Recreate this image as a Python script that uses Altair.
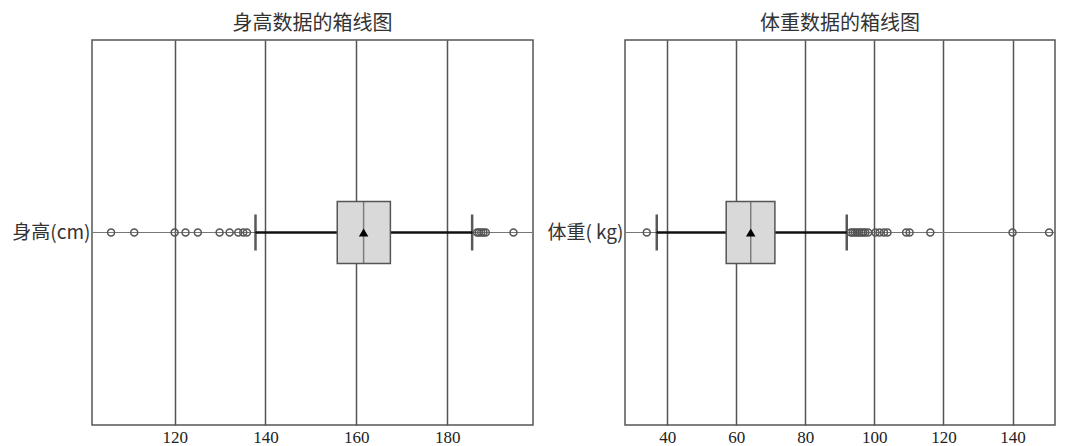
import altair as alt
import pandas as pd

# ---- data ----
stat_names = ["whisker_low", "q1", "median", "q3", "whisker_high", "mean"]
height_stats = [137.8, 155.8, 161.6, 167.5, 185.5, 161.6]
weight_stats = [37.0, 57.1, 64.2, 71.2, 92.0, 64.2]

height_outliers = [106.0, 111.1, 120.0, 122.4, 125.1, 129.9, 132.1, 134.0, 135.1, 135.9,
                   186.6, 187.0, 187.5, 188.0, 188.5, 194.6]
weight_outliers = [34.1, 93.2, 93.8, 94.4, 95.0, 95.6, 96.2, 96.8, 97.4, 98.2,
                   100.3, 101.5, 102.8, 103.8, 109.2, 110.2, 116.2, 140.0, 150.6]

height_label = "身高(cm)"
weight_label = "体重( kg)"
height_title = "身高数据的箱线图"
weight_title = "体重数据的箱线图"
height_ticks = [120, 140, 160, 180]
weight_ticks = [40, 60, 80, 100, 120, 140]
height_domain = [101.8, 198.9]
weight_domain = [27.8, 152.3]

CJK = "Noto Sans CJK SC"
SERIF = "Liberation Serif"


def panel(label, stats, outliers, ticks, domain, title, width):
    s = dict(zip(stat_names, stats))
    sdf = pd.DataFrame([dict(cat=label, **s)])
    odf = pd.DataFrame({"cat": [label] * len(outliers), "v": outliers})

    xscale = alt.Scale(domain=domain, nice=False, zero=False)
    xaxis = alt.Axis(values=ticks, grid=True, gridColor="#555", gridWidth=1.5,
                     ticks=False, domain=False, labelFont=SERIF, labelFontSize=17,
                     labelColor="#222", labelPadding=4, title=None, format="d")
    yaxis = alt.Axis(title=None, grid=True, gridColor="#777", gridWidth=1.2,
                     bandPosition=0.5, ticks=False, domain=False,
                     labelFont=CJK, labelFontSize=19, labelColor="#333",
                     labelPadding=2)
    y = alt.Y("cat:N", axis=yaxis, scale=alt.Scale(paddingInner=0, paddingOuter=0))

    base = alt.Chart(sdf)
    w1 = base.mark_rule(color="#111", strokeWidth=2.5).encode(
        x=alt.X("whisker_low:Q", scale=xscale, axis=xaxis), x2="q1:Q", y=y)
    w2 = base.mark_rule(color="#111", strokeWidth=2.5).encode(
        x=alt.X("q3:Q"), x2="whisker_high:Q", y=y)
    caps_lo = base.mark_tick(color="#111", thickness=2.5, size=36).encode(
        x="whisker_low:Q", y=y)
    caps_hi = base.mark_tick(color="#111", thickness=2.5, size=36).encode(
        x="whisker_high:Q", y=y)
    box = base.mark_bar(fill="#d9d9d9", stroke="#555", strokeWidth=1.5, size=62).encode(
        x="q1:Q", x2="q3:Q", y=y)
    med = base.mark_tick(color="#555", thickness=1.5, size=62).encode(
        x="median:Q", y=y)
    mean = base.mark_point(shape="triangle-up", filled=True, color="#000", size=90,
                           opacity=1).encode(x="mean:Q", y=y)
    outs = alt.Chart(odf).mark_point(shape="circle", filled=False, stroke="#555",
                                     strokeWidth=1.4, size=50, opacity=1).encode(
        x="v:Q", y=y)

    return alt.layer(w1, w2, caps_lo, caps_hi, box, med, mean, outs).properties(
        width=width, height=385,
        title=alt.TitleParams(title, font=CJK, fontSize=20, fontWeight="normal",
                              color="#333", offset=6, anchor="middle"))


left = panel(height_label, height_stats, height_outliers, height_ticks,
             height_domain, height_title, 441)
right = panel(weight_label, weight_stats, weight_outliers, weight_ticks,
              weight_domain, weight_title, 430)

chart = alt.hconcat(left, right, spacing=92, bounds="flush").resolve_scale(
    x="independent", y="independent"
).configure_view(stroke="#555", strokeWidth=1.5).properties(
    padding={"left": 3, "top": 5, "right": 0, "bottom": 0}
)

chart.save("out.html", embed_options={"renderer": "svg", "actions": False})
